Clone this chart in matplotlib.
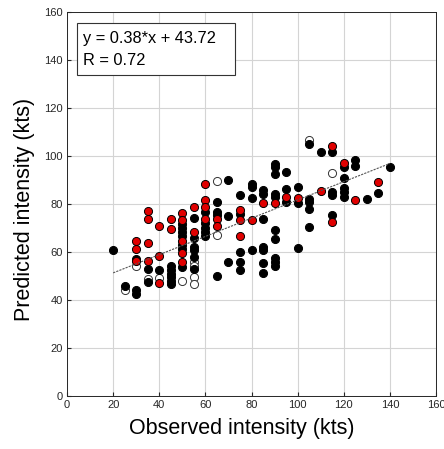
import numpy as np
import matplotlib
matplotlib.use("Agg")
import matplotlib.pyplot as plt
from matplotlib.patches import Rectangle

plt.rcParams['font.family'] = ['Liberation Sans', 'DejaVu Sans']

# pontos pretos (observado, previsto)
black_x = [20, 25, 30, 30, 30, 35, 35, 40,
           45, 45, 45, 45, 45, 45,
           50, 50, 50, 50, 50, 50, 50,
           55, 55, 55, 55, 55, 55,
           60, 60, 60, 60, 60,
           65, 65, 65, 65,
           70, 70, 70,
           75, 75, 75, 75, 75,
           80, 80, 80, 80,
           85, 85, 85, 85, 85, 85, 85,
           90, 90, 90, 90, 90, 90, 90, 90, 90, 90,
           95, 95, 95,
           100, 100, 100,
           105, 105, 105, 105, 105,
           110,
           115, 115, 115, 115,
           120, 120, 120, 120, 120,
           125, 125, 130, 135, 140]
black_y = [61, 46, 57, 44, 42.5, 52.8, 47.5, 52.5,
           54, 52.5, 51, 49.5, 48, 46.5,
           71.7, 69.9, 68.2, 66.6, 62.9, 61.1, 53.6,
           74, 66, 62.2, 60.8, 57.8, 53,
           76.8, 72, 70, 68.3, 66.5,
           80.7, 76.5, 75.4, 50,
           90, 75.2, 56,
           83.6, 76, 60, 56, 52.5,
           88.3, 87, 82.4, 60.8,
           85.8, 84.4, 73.6, 62.2, 61, 55.3, 51.1,
           96.7, 95.3, 92.5, 84.4, 83, 69.2, 65.3, 57.4, 56, 54.2,
           93.2, 86.1, 81,
           87.2, 80.3, 61.8,
           104.9, 82.3, 81, 77.8, 70.6,
           101.5,
           101.8, 85.1, 83.8, 75.4,
           95.3, 90.7, 86.5, 85.1, 82.8,
           98.3, 96, 82, 84.7, 95.5]

# pontos vermelhos
red_x = [30, 30, 30, 35, 35, 35, 35, 40, 40, 40, 45, 45,
         50, 50, 50, 50, 50, 55, 55, 60, 60, 60, 60, 65, 65,
         75, 75, 75, 80, 85, 90, 95, 100, 110, 115, 115, 120, 125, 135]
red_y = [64.6, 61.1, 56.4, 77.2, 73.7, 63.9, 56.4, 70.8, 58.3, 47.3, 73.6, 69.6,
         76.1, 73.3, 64.7, 59.4, 56, 78.6, 68.5, 88.3, 81.9, 78.9, 73.7, 73.7, 70.8,
         77.5, 73.3, 66.7, 73.5, 80.6, 80.3, 83, 82.4, 85.5, 104.2, 72.6, 97, 81.7, 89]

# pontos brancos (vazios)
white_x = [25, 30, 35, 40, 50, 55, 55, 55, 55, 65, 65, 105, 115]
white_y = [44, 54, 48.6, 49, 48, 55.7, 54, 49.7, 46.5, 89.7, 67, 106.7, 93]

slope = 0.38
intercept = 43.72
R = 0.72

fig = plt.figure(figsize=(4.44, 4.49), dpi=100)
ax = fig.add_axes([0.151, 0.118, 0.831, 0.855])

ms = 34
ax.scatter(white_x, white_y, s=ms, facecolor='white', edgecolor='#333333', linewidth=0.7, zorder=3)
ax.scatter(black_x, black_y, s=ms, facecolor='black', edgecolor='black', linewidth=0.7, zorder=4)
ax.scatter(red_x, red_y, s=ms, facecolor='#e00000', edgecolor='black', linewidth=0.7, zorder=5)

# reta ajustada
xf = np.array([20, 140])
ax.plot(xf, slope*xf + intercept, color='#555555', lw=0.8, ls=(0, (2, 1)), zorder=6)

ax.set_xlim(0, 160)
ax.set_ylim(0, 160)
ax.set_xticks(np.arange(0, 161, 20))
ax.set_yticks(np.arange(0, 161, 20))
ax.grid(True, color='#d4d4d4', lw=0.8)
ax.set_axisbelow(True)
ax.tick_params(direction='in', length=3, labelsize=8, colors='#262626', pad=3)
for s in ax.spines.values():
    s.set_color('#262626')
    s.set_linewidth(0.7)

ax.set_xlabel("Observed intensity (kts)", fontsize=15.5)
ax.set_ylabel("Predicted intensity (kts)", fontsize=15.5)
ax.xaxis.set_label_coords(0.474, -0.058)
ax.yaxis.set_label_coords(-0.087, 0.486)

# caixa com a equacao
ax.add_patch(Rectangle((4.3, 133.8), 68.6, 21.5, facecolor='white', edgecolor='#333333',
                       lw=0.8, zorder=10))
ax.text(7.1, 148.8, f"y = {slope}*x + {intercept}", fontsize=11.8, va='center', ha='left', zorder=11)
ax.text(7.1, 139.8, f"R = {R}", fontsize=11.8, va='center', ha='left', zorder=11)

fig.savefig("out.png", dpi=100)
